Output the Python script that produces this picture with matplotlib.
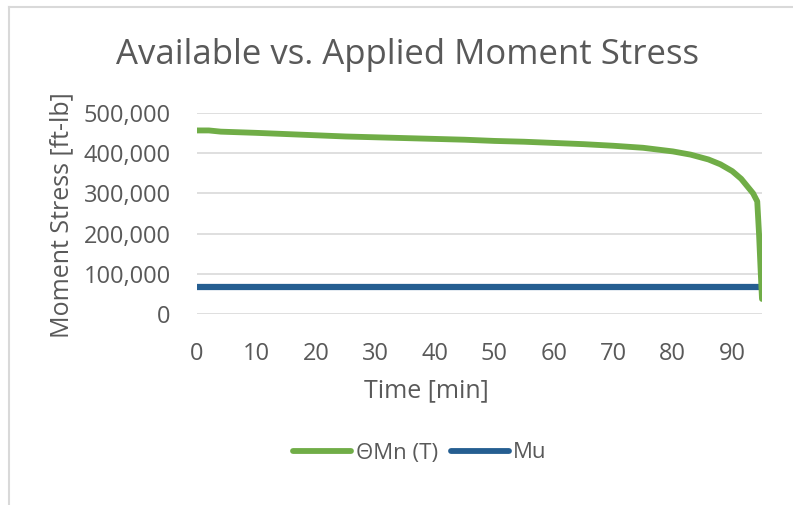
import numpy as np
import matplotlib.pyplot as plt
from matplotlib.lines import Line2D

# moment capacity vs fire exposure time
t_min = [0, 2, 4, 6, 10, 15, 20, 25, 30, 35, 40, 45, 50, 55, 60, 65, 70, 75,
         80, 83, 86, 88, 90, 91.5, 92.5, 93.5, 94.2, 94.5, 94.8, 95.0]
mn_t = [456000, 456000, 453000, 452000, 450000, 447000, 444000, 441000, 439000,
        437000, 435000, 433000, 430000, 428000, 425000, 422000, 418000, 413000,
        404000, 396000, 384000, 372000, 355000, 336000, 318000, 300000, 280000,
        200000, 100000, 38000]

# applied moment
t_mu = [0, 95]
mu = [67000, 67000]

green = '#70AD47'
blue = '#255E91'
grey = '#595959'

plt.rcParams['font.family'] = ['Open Sans', 'DejaVu Sans']

fig = plt.figure(figsize=(7.93, 5.05), dpi=100)
ax = fig.add_axes([197/793, 1 - 314.3/505, (762-197)/793, (314.3-112.7)/505])

ax.plot(t_mu, mu, color=blue, lw=4.5, solid_capstyle='butt', zorder=3)
ax.plot(t_min, mn_t, color=green, lw=4.2, solid_capstyle='round', zorder=4)

ax.set_xlim(0, 95)
ax.set_ylim(0, 500000)
ax.set_xticks(np.arange(0, 100, 10))
ax.set_yticks(np.arange(0, 600000, 100000))
ax.set_yticklabels([f'{v:,}' for v in range(0, 600000, 100000)])
ax.grid(axis='y', color='#D9D9D9', lw=1.2)
ax.set_axisbelow(True)
for s in ax.spines.values():
    s.set_visible(False)
ax.tick_params(length=0, labelsize=17, colors=grey)
ax.tick_params(axis='y', pad=19)
ax.tick_params(axis='x', pad=20)

fig.text(407/793, 1 - 55/505, 'Available vs. Applied Moment Stress',
         ha='center', va='center', fontsize=25, color=grey)
fig.text(62/793, 1 - 215/505, 'Moment Stress [ft-lb]', rotation=90,
         ha='center', va='center', fontsize=18, color=grey)
fig.text(426/793, 1 - 391/505, 'Time [min]', ha='center', va='center',
         fontsize=18, color=grey)

handles = [Line2D([], [], color=green, lw=4.2, solid_capstyle='round'),
           Line2D([], [], color=blue, lw=4.2, solid_capstyle='round')]
fig.legend(handles, ['ΘMn (T)', 'Mu'], loc='center', ncol=2,
           bbox_to_anchor=(420/793, 1 - 453/505), frameon=False,
           fontsize=16, labelcolor=grey, handlelength=2.6,
           handletextpad=0.2, columnspacing=0.6)

# outer chart frame
fig.add_artist(Line2D([9/793, 9/793], [0, 1 - 7/505], color='#D9D9D9', lw=1.5))
fig.add_artist(Line2D([9/793, 1], [1 - 7/505, 1 - 7/505], color='#D9D9D9', lw=1.5))

fig.savefig('out.png', dpi=100)
